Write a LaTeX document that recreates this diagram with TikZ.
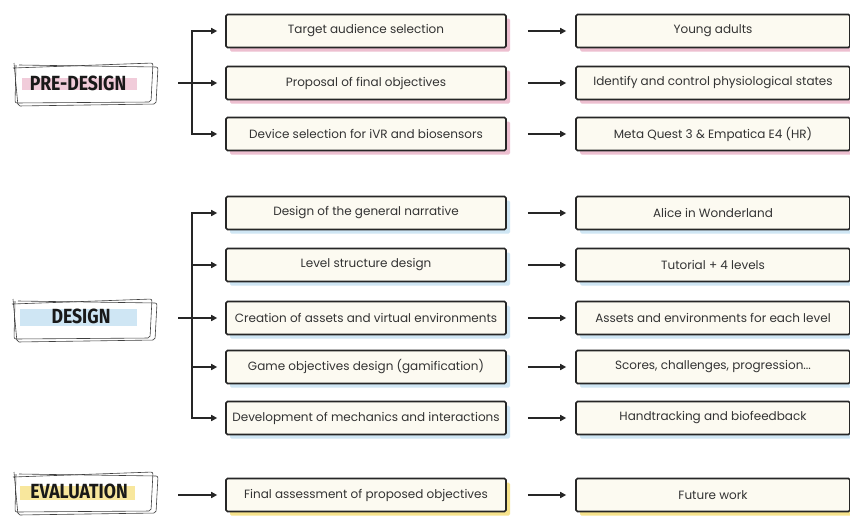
\documentclass[tikz,border=0pt]{standalone}
\usepackage{fontspec}
\setmainfont{Poppins}
\newfontfamily\tagfont[FakeStretch=0.86]{Fira Sans}
\usetikzlibrary{arrows.meta,calc,shadows,backgrounds}

\definecolor{cream}{HTML}{FCFAF1}
\definecolor{inkgray}{HTML}{262626}
\definecolor{pinkshade}{HTML}{EDBFD0}
\definecolor{blueshade}{HTML}{CFE6F4}
\definecolor{yellowshade}{HTML}{F7E38C}

\tikzset{
  stepbox/.style={draw=inkgray, line width=1.6pt, fill=cream, rounded corners=1.5pt,
    minimum height=33pt, inner sep=2pt, text=black!80, font=\fontsize{12}{14}\selectfont},
  leftbox/.style={stepbox, minimum width=280pt},
  rightbox/.style={stepbox, minimum width=274pt},
  shade/.style={general shadow={fill=#1, shadow xshift=4pt, shadow yshift=-4pt}},
  flow/.style={-{Triangle[length=6pt,width=6pt]}, line width=1.5pt, draw=inkgray},
  sketch/.style={line width=0.6pt, draw=black!75, rounded corners=2pt},
  tag/.style={inner sep=0pt, font=\tagfont\bfseries\fontsize{20.5}{22}\selectfont, text=black!90},
}

% hand drawn double frame round a phase label
\newcommand\tagframe[2]{%
  \draw[sketch] ($(#1,#2)+(-72,-16)$) -- ($(#1,#2)+(68,-21)$) -- ($(#1,#2)+(66,18)$)
    -- ($(#1,#2)+(-70,19)$) -- ($(#1,#2)+(-69,-19)$);
  \draw[sketch] ($(#1,#2)+(-66,-19)$) -- ($(#1,#2)+(73,-17)$) -- ($(#1,#2)+(71,20)$)
    -- ($(#1,#2)+(-67,22)$) -- ($(#1,#2)+(-71,-21)$);
}

\begin{document}
\begin{tikzpicture}[x=1pt,y=-1pt]
  \useasboundingbox[fill=white] (0,0) rectangle (850,515);

  % phase labels
  \fill[pinkshade!80] (22,78) rectangle (137,90);
  \fill[blueshade] (20,309) rectangle (137,326);
  \fill[yellowshade!85] (20,486) rectangle (135,500);
  \node[tag] (pre) at (78,83) {PRE-DESIGN};
  \node[tag] (des) at (81,316) {DESIGN};
  \node[tag] (eval) at (79,491) {EVALUATION};
  \tagframe{85}{84}
  \tagframe{84}{320}
  \tagframe{85}{493}

  % pre-design
  \node[leftbox, shade=pinkshade] (p1) at (366,31) {Target audience selection};
  \node[leftbox, shade=pinkshade] (p2) at (366,83) {Proposal of final objectives};
  \node[leftbox, shade=pinkshade] (p3) at (366,134) {Device selection for iVR and biosensors};
  \node[rightbox, shade=pinkshade] (r1) at (713,31) {Young adults};
  \node[rightbox, shade=pinkshade] (r2) at (713,83) {Identify and control physiological states};
  \node[rightbox, shade=pinkshade] (r3) at (713,134) {Meta Quest 3 \& Empatica E4 (HR)};

  % design
  \node[leftbox, shade=blueshade] (d1) at (366,213) {Design of the general narrative};
  \node[leftbox, shade=blueshade] (d2) at (366,265) {Level structure design};
  \node[leftbox, shade=blueshade] (d3) at (366,318) {Creation of assets and virtual environments};
  \node[leftbox, shade=blueshade] (d4) at (366,367) {Game objectives design (gamification)};
  \node[leftbox, shade=blueshade] (d5) at (366,418) {Development of mechanics and interactions};
  \node[rightbox, shade=blueshade] (s1) at (713,213) {Alice in Wonderland};
  \node[rightbox, shade=blueshade] (s2) at (713,265) {Tutorial + 4 levels};
  \node[rightbox, shade=blueshade] (s3) at (713,318) {Assets and environments for each level};
  \node[rightbox, shade=blueshade] (s4) at (713,367) {Scores, challenges, progression...};
  \node[rightbox, shade=blueshade] (s5) at (713,418) {Handtracking and biofeedback};

  % evaluation
  \node[leftbox, shade=yellowshade] (e1) at (366,495) {Final assessment of proposed objectives};
  \node[rightbox, shade=yellowshade] (f1) at (713,495) {Future work};

  % branches
  \coordinate (prebus) at (192,83);
  \coordinate (prein) at (178,83);
  \coordinate (desbus) at (192,318);
  \coordinate (desin) at (178,318);
  \coordinate (evalin) at (178,495);

  \draw[flow, shorten >=8pt] (prebus) |- (p1.west);
  \draw[flow, shorten >=8pt] (prebus) |- (p3.west);
  \draw[flow, shorten >=8pt] (prein) -- (p2.west);

  \draw[flow, shorten >=8pt] (desbus) |- (d1.west);
  \draw[flow, shorten >=8pt] (desbus) |- (d2.west);
  \draw[flow, shorten >=8pt] (desin) -- (d3.west);
  \draw[flow, shorten >=8pt] (desbus) |- (d4.west);
  \draw[flow, shorten >=8pt] (desbus) |- (d5.west);

  \draw[flow, shorten >=8pt] (evalin) -- (e1.west);

  % results
  \draw[flow, shorten <=21pt, shorten >=9pt] (p1.east) -- (r1.west);
  \draw[flow, shorten <=21pt, shorten >=9pt] (p2.east) -- (r2.west);
  \draw[flow, shorten <=21pt, shorten >=9pt] (p3.east) -- (r3.west);
  \draw[flow, shorten <=21pt, shorten >=9pt] (d1.east) -- (s1.west);
  \draw[flow, shorten <=21pt, shorten >=9pt] (d2.east) -- (s2.west);
  \draw[flow, shorten <=21pt, shorten >=9pt] (d3.east) -- (s3.west);
  \draw[flow, shorten <=21pt, shorten >=9pt] (d4.east) -- (s4.west);
  \draw[flow, shorten <=21pt, shorten >=9pt] (d5.east) -- (s5.west);
  \draw[flow, shorten <=21pt, shorten >=9pt] (e1.east) -- (f1.west);
\end{tikzpicture}
\end{document}
